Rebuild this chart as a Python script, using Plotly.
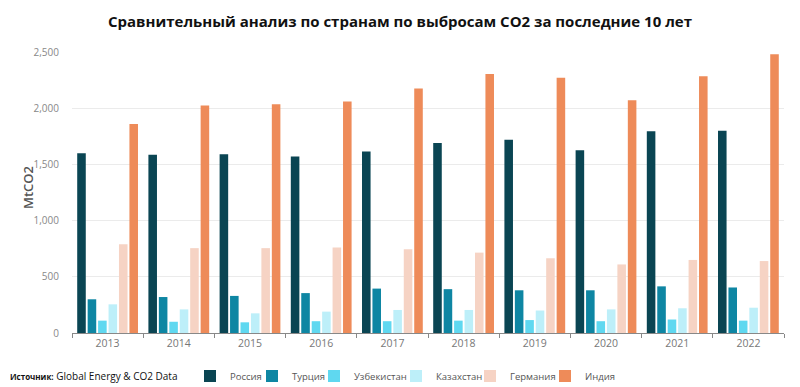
import plotly.graph_objects as go

years = ["2013", "2014", "2015", "2016", "2017", "2018", "2019", "2020", "2021", "2022"]
russia = [1600, 1585, 1590, 1570, 1615, 1690, 1720, 1625, 1795, 1800]
turkey = [300, 320, 330, 355, 395, 390, 380, 380, 415, 405]
uzbekistan = [110, 100, 95, 105, 105, 110, 115, 105, 120, 110]
kazakhstan = [255, 210, 175, 190, 205, 205, 200, 210, 220, 225]
germany = [790, 755, 755, 760, 745, 715, 665, 610, 650, 640]
india = [1860, 2025, 2035, 2060, 2175, 2305, 2270, 2070, 2285, 2480]

series = [
    ("Россия", russia, "#0a4553"),
    ("Турция", turkey, "#0e86a3"),
    ("Узбекистан", uzbekistan, "#5fd8f0"),
    ("Казахстан", kazakhstan, "#bdeff9"),
    ("Германия", germany, "#f6d3c4"),
    ("Индия", india, "#ee8b59"),
]
# legend swatch centres (px) as seen in the reference
legend_centers = [215, 277, 339, 421, 495, 570]

fig = go.Figure()
legend_layouts = {}
for i, (name, vals, color) in enumerate(series):
    key = "legend" if i == 0 else f"legend{i + 1}"
    fig.add_trace(go.Bar(x=years, y=vals, name=name, legend=key,
                         marker=dict(color=color, line=dict(width=0))))
    legend_layouts[key] = dict(
        orientation="h", xref="container", yref="container",
        x=(legend_centers[i] - 5 - 20) / 800, xanchor="left",
        y=1 - 376 / 387, yanchor="middle",
        font=dict(size=9.5, color="#555555", family="Open Sans, sans-serif"),
        itemwidth=30, bgcolor="rgba(0,0,0,0)",
    )

fig.update_layout(
    width=800, height=387,
    paper_bgcolor="white", plot_bgcolor="white",
    font=dict(family="Open Sans, sans-serif", color="#777777", size=11),
    title=dict(text="<b>Сравнительный анализ по странам по выбросам CO2 за последние 10 лет</b>",
               x=0.5, xanchor="center", y=1 - 22 / 387, yanchor="middle",
               font=dict(size=15, color="#111111", family="Open Sans, sans-serif")),
    margin=dict(l=72, r=16, t=52, b=54, autoexpand=False),
    barmode="group", bargap=0.12, bargroupgap=0.18,
    showlegend=True,
    xaxis=dict(type="category", showgrid=False, showline=True, linecolor="#888888", linewidth=1,
               ticks="outside", tickson="boundaries", ticklen=4, tickcolor="#888888",
               tickfont=dict(size=10.5, color="#777777"), automargin=False),
    yaxis=dict(range=[0, 2500], tickvals=[0, 500, 1000, 1500, 2000, 2500], tickformat=",d",
               showgrid=True, gridcolor="#ebebeb", zeroline=False, showline=False,
               ticks="", ticklabelstandoff=12, automargin=False,
               tickfont=dict(size=10, color="#888888")),
    annotations=[
        dict(text="<b><span style='font-size:8px'>Источник:</span></b> Global Energy & CO2 Data",
             xref="paper", yref="paper", xanchor="left", yanchor="middle",
             x=-64 / 712, y=-43 / 281, showarrow=False,
             font=dict(size=10, color="#111111", family="Open Sans, sans-serif")),
        dict(text="MtCO2", textangle=-90, xref="paper", yref="paper",
             xanchor="center", yanchor="middle", x=-44 / 712, y=145 / 281, showarrow=False,
             font=dict(size=13, color="#555555", weight=600, family="Open Sans, sans-serif")),
    ],
)
fig.update_layout(**legend_layouts)

fig.write_html("out.html", config={"displayModeBar": False},
               post_script="document.body.style.margin='0px';")
